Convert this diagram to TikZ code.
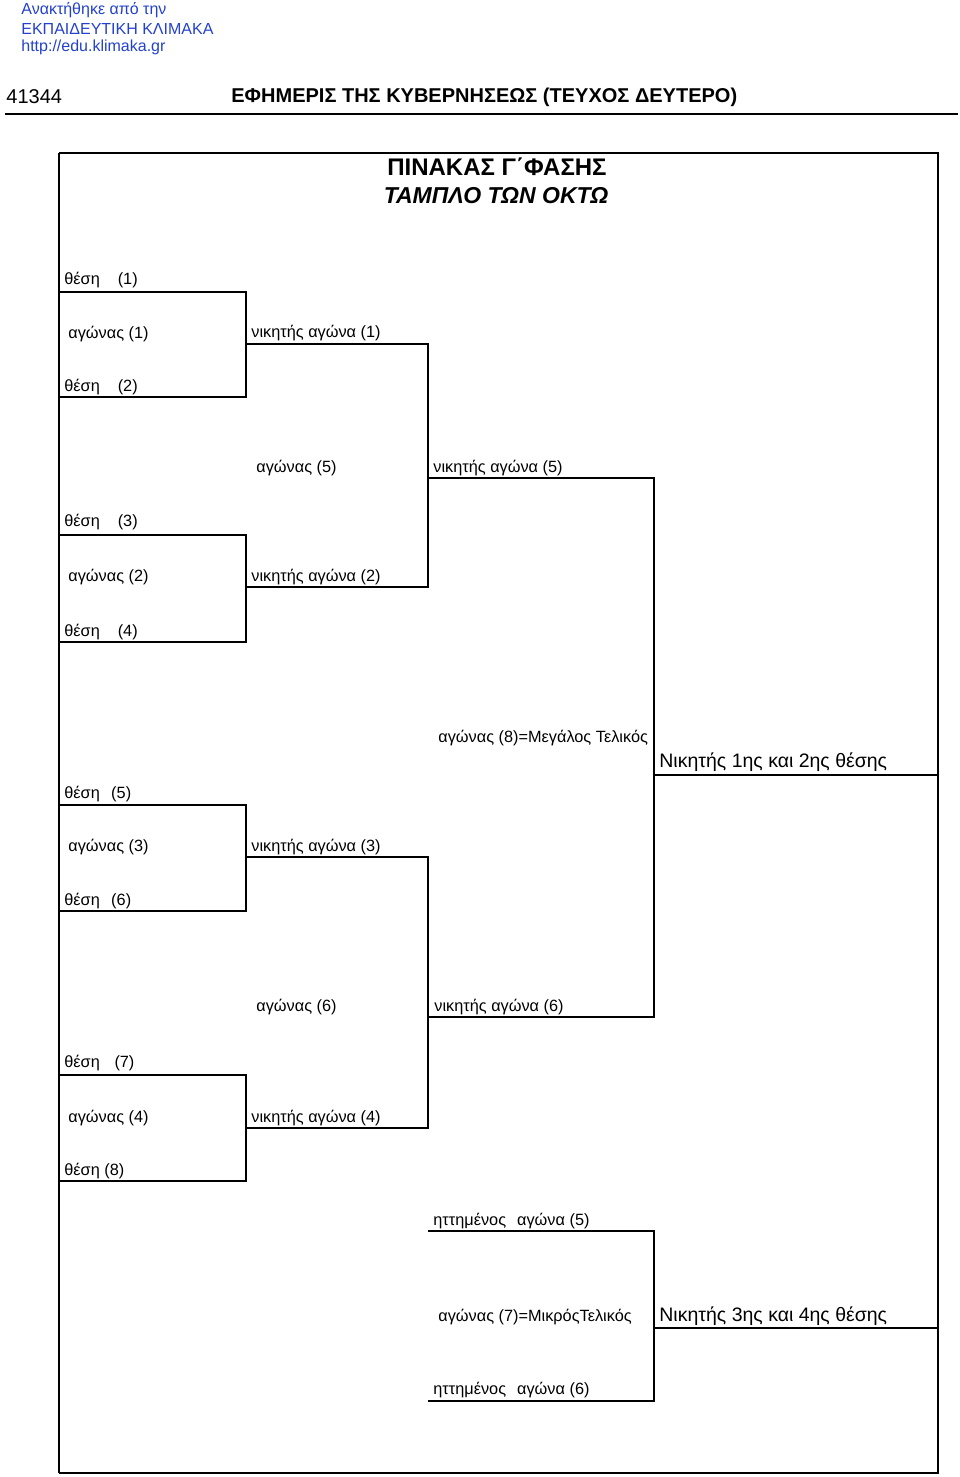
\documentclass[tikz,border=0pt]{standalone}
\usepackage{fontspec}
\setmainfont{Liberation Sans}
\usetikzlibrary{positioning,calc}
\definecolor{klimakablue}{RGB}{35,65,205}

\begin{document}
\begin{tikzpicture}[x=1pt, y=-1pt, line width=2.8pt,
    lbl/.style={anchor=west, inner sep=0pt, yshift=-2pt, font=\fontsize{16.3}{19}\selectfont},
    biglbl/.style={anchor=west, inner sep=0pt, yshift=-2pt, font=\fontsize{19.5}{23}\selectfont},
    src/.style={anchor=west, inner sep=0pt, text=klimakablue, font=\fontsize{16}{19}\selectfont}]
    \useasboundingbox (0,0) rectangle (960,1477);

    % page header
    \node[src] (src1) at (20,10) {Ανακτήθηκε από την};
    \node[src] (src2) at (20,28.5) {ΕΚΠΑΙΔΕΥΤΙΚΗ ΚΛΙΜΑΚΑ};
    \node[src] (src3) at (20,47) {http://edu.klimaka.gr};
    \node[anchor=west, inner sep=0pt, font=\fontsize{20}{24}\selectfont] (page) at (5,97) {41344};
    \node[anchor=west, inner sep=0pt, font=\fontsize{20}{24}\selectfont\bfseries] (gazette) at (230,97) {ΕΦΗΜΕΡΙΣ ΤΗΣ ΚΥΒΕΡΝΗΣΕΩΣ (ΤΕΥΧΟΣ ΔΕΥΤΕΡΟ)};
    \coordinate (rulel) at (5,114);
    \coordinate (ruler) at (958,114);
    \draw[line width=2.8pt] (rulel) -- (ruler);

    % frame
    \coordinate (tl) at (59,153);
    \coordinate (tr) at (938,153);
    \coordinate (br) at (938,1473);
    \coordinate (bl) at (59,1473);
    \draw[line width=2.4pt] (tl) -- (tr) -- (br) -- (bl);
    \draw[line width=1.4pt] (bl) -- (tl);
    \node[font=\fontsize{24}{28}\selectfont\bfseries, inner sep=0pt] (title) at (497,167) {ΠΙΝΑΚΑΣ Γ΄ΦΑΣΗΣ};
    \node[font=\fontsize{23}{27}\selectfont\bfseries\itshape, inner sep=0pt] (subtitle) at (496,196) {ΤΑΜΠΛΟ ΤΩΝ ΟΚΤΩ};

    % labels
    \node[lbl] (s1) at (63,278) {θέση\hspace{1.1em}(1)};
    \node[lbl] (m1) at (67,332) {αγώνας (1)};
    \node[lbl] (s2) at (63,385) {θέση\hspace{1.1em}(2)};
    \node[lbl] (w1) at (250,331) {νικητής αγώνα (1)};
    \node[lbl] (m5) at (255,466) {αγώνας (5)};
    \node[lbl] (w5) at (432,466) {νικητής αγώνα (5)};
    \node[lbl] (s3) at (63,520) {θέση\hspace{1.1em}(3)};
    \node[lbl] (m2) at (67,575) {αγώνας (2)};
    \node[lbl] (w2) at (250,575) {νικητής αγώνα (2)};
    \node[lbl] (s4) at (63,630) {θέση\hspace{1.1em}(4)};
    \node[lbl] (m8) at (437,736) {αγώνας (8)=Μεγάλος Τελικός};
    \node[biglbl] (f1) at (658,760) {Νικητής 1ης και 2ης θέσης};
    \node[lbl] (s5) at (63,792) {θέση\hspace{0.7em}(5)};
    \node[lbl] (m3) at (67,845) {αγώνας (3)};
    \node[lbl] (w3) at (250,845) {νικητής αγώνα (3)};
    \node[lbl] (s6) at (63,899) {θέση\hspace{0.7em}(6)};
    \node[lbl] (m6) at (255,1005) {αγώνας (6)};
    \node[lbl] (w6) at (433,1005) {νικητής αγώνα (6)};
    \node[lbl] (s7) at (63,1061) {θέση\hspace{0.9em}(7)};
    \node[lbl] (m4) at (67,1116) {αγώνας (4)};
    \node[lbl] (w4) at (250,1116) {νικητής αγώνα (4)};
    \node[lbl] (s8) at (63,1169) {θέση (8)};
    \node[lbl] (l5) at (432,1219) {ηττημένος\hspace{0.4em} αγώνα (5)};
    \node[lbl] (m7) at (437,1315) {αγώνας (7)=ΜικρόςΤελικός};
    \node[biglbl] (f2) at (658,1314) {Νικητής 3ης και 4ης θέσης};
    \node[lbl] (l6) at (432,1388) {ηττημένος\hspace{0.4em} αγώνα (6)};

    % first round
    \coordinate (a1) at (59,292);  \coordinate (b1) at (246,397);  \coordinate (c1) at (59,397);
    \coordinate (a2) at (59,535);  \coordinate (b2) at (246,642);  \coordinate (c2) at (59,642);
    \coordinate (a3) at (59,805);  \coordinate (b3) at (246,911);  \coordinate (c3) at (59,911);
    \coordinate (a4) at (59,1075); \coordinate (b4) at (246,1181); \coordinate (c4) at (59,1181);
    \draw (a1) -| (b1) -- (c1);
    \draw (a2) -| (b2) -- (c2);
    \draw (a3) -| (b3) -- (c3);
    \draw (a4) -| (b4) -- (c4);

    % semifinals
    \coordinate (d1) at (246,344);  \coordinate (e1) at (428,587);  \coordinate (d2) at (246,587);
    \coordinate (d3) at (246,857);  \coordinate (e2) at (428,1128); \coordinate (d4) at (246,1128);
    \draw (d1) -| (e1) -- (d2);
    \draw (d3) -| (e2) -- (d4);

    % finals
    \coordinate (g1) at (428,478);  \coordinate (h1) at (654,1017); \coordinate (g2) at (428,1017);
    \coordinate (i1) at (654,775);  \coordinate (i2) at (938,775);
    \draw (g1) -| (h1) -- (g2);
    \draw (i1) -- (i2);
    \coordinate (k1) at (428,1231); \coordinate (h2) at (654,1401); \coordinate (k2) at (428,1401);
    \coordinate (j1) at (654,1328); \coordinate (j2) at (938,1328);
    \draw (k1) -| (h2) -- (k2);
    \draw (j1) -- (j2);
\end{tikzpicture}
\end{document}
